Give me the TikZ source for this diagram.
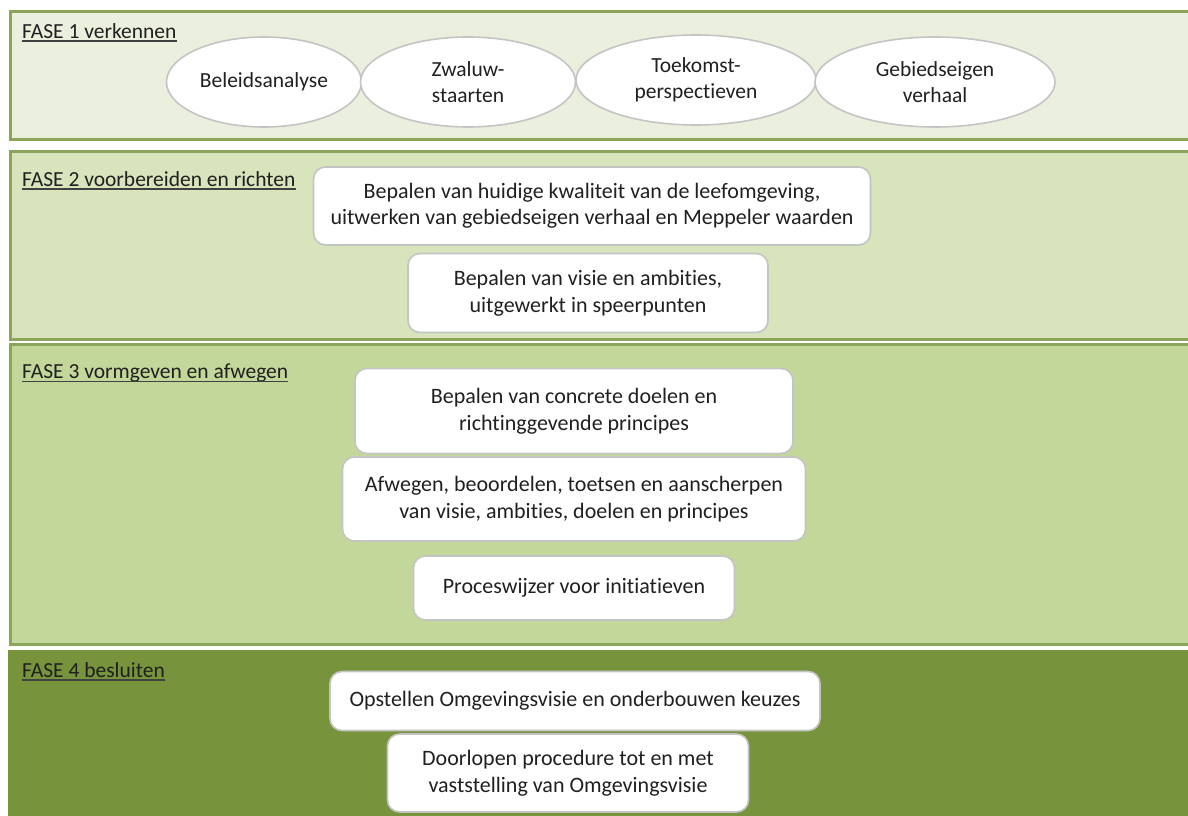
\documentclass[tikz,border=0pt]{standalone}
\usepackage{fontspec}
\setmainfont{Carlito}[Ligatures=NoCommon]
\usetikzlibrary{shapes.geometric}
\definecolor{txt}{HTML}{202020}
\definecolor{pborder}{HTML}{8BA55A}
\definecolor{pone}{HTML}{EBEFDD}
\definecolor{ptwo}{HTML}{D8E4BC}
\definecolor{pthree}{HTML}{C4D79B}
\definecolor{pfour}{HTML}{77933C}
\definecolor{boxline}{HTML}{C4C4C4}
\tikzset{
  panel/.style={draw=pborder, line width=3pt},
  wbox/.style={draw=boxline, fill=white, rounded corners=12pt, line width=1.6pt,
    align=center, inner sep=0pt, text=txt, font=\fontsize{22}{26.5}\selectfont},
  ell/.style={ellipse, draw=boxline, fill=white, line width=1.6pt,
    align=center, inner sep=0pt, text=txt, font=\fontsize{21.5}{25.5}\selectfont},
  phase/.style={anchor=base west, inner sep=0pt, text=txt, font=\fontsize{21.5}{25}\selectfont},
  uline/.style={draw=txt!85, line width=1.3pt}
}
\begin{document}
\begin{tikzpicture}[x=1pt,y=-1pt]
\useasboundingbox (0,0) rectangle (1188,816);
% panels
\path[panel, fill=pone] (10,12) rectangle (1195,139);
\path[panel, fill=ptwo] (10,151) rectangle (1195,339);
\path[panel, fill=pthree] (10,344) rectangle (1195,644);
\path[fill=pfour] (8,650) rectangle (1195,820);
% phase labels
\node[phase] (f1) at (22,38) {FASE 1 verkennen};
\draw[uline] ([yshift=-3pt]f1.base west) -- ([yshift=-3pt]f1.base east);
\node[phase] (f2) at (22,186) {FASE 2 voorbereiden en richten};
\draw[uline] ([yshift=-3pt]f2.base west) -- ([yshift=-3pt]f2.base east);
\node[phase] (f3) at (22,378) {FASE 3 vormgeven en afwegen};
\draw[uline] ([yshift=-3.5pt]f3.base west) -- ([yshift=-3.5pt]f3.base east);
\node[phase] (f4) at (22,677) {FASE 4 besluiten};
\draw[uline] ([yshift=-3pt]f4.base west) -- ([yshift=-3pt]f4.base east);
% phase 1 ellipses
\node[ell, minimum width=195pt, minimum height=90pt] (e1) at (264,82) {Beleidsanalyse};
\node[ell, minimum width=215pt, minimum height=90pt] (e2) at (468,82) {Zwaluw-\\staarten};
\node[ell, minimum width=240pt, minimum height=90pt] (e3) at (696,80) {Toekomst-\\perspectieven};
\node[ell, minimum width=240pt, minimum height=90pt] (e4) at (935,82) {Gebiedseigen\\verhaal};
% phase 2
\node[wbox, minimum width=557pt, minimum height=78pt] (b1) at (592,206)
  {Bepalen van huidige kwaliteit van de leefomgeving,\\uitwerken van gebiedseigen verhaal en Meppeler waarden};
\node[wbox, minimum width=360pt, minimum height=79pt] (b2) at (588,293)
  {Bepalen van visie en ambities,\\uitgewerkt in speerpunten};
% phase 3
\node[wbox, minimum width=438pt, minimum height=85pt] (b3) at (574,411)
  {Bepalen van concrete doelen en\\richtinggevende principes};
\node[wbox, minimum width=463pt, minimum height=84pt] (b4) at (574,499)
  {Afwegen, beoordelen, toetsen en aanscherpen\\van visie, ambities, doelen en principes};
\node[wbox, minimum width=321pt, minimum height=64pt] (b5) at (574,588)
  {Proceswijzer voor initiatieven};
% phase 4
\node[wbox, minimum width=490pt, minimum height=59pt] (b6) at (575,701)
  {Opstellen Omgevingsvisie en onderbouwen keuzes};
\node[wbox, minimum width=361pt, minimum height=78pt] (b7) at (568,773)
  {Doorlopen procedure tot en met\\vaststelling van Omgevingsvisie};
\end{tikzpicture}
\end{document}
